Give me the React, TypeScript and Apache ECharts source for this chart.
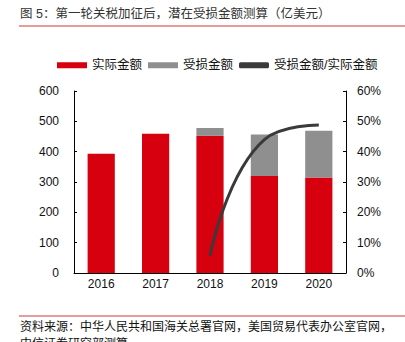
import React, { useEffect, useRef } from "react";
import * as echarts from "echarts";

const categories = ["2016", "2017", "2018", "2019", "2020"];
const actualValues = [393, 459, 452, 320, 315];
const lossValues = [0, 0, 26, 137, 154];
const ratioValues: (number | null)[] = [null, null, 5.7, 44, 48.8];
const leftTicks = { min: 0, max: 600, interval: 100 };
const rightTicks = { min: 0, max: 60, interval: 10 };
const titleText = "图 5：第一轮关税加征后，潜在受损金额测算（亿美元）";
const sourceLine1 = "资料来源：中华人民共和国海关总署官网，美国贸易代表办公室官网，";
const sourceLine2 = "中信证券研究部测算";

const FONT = "'Liberation Sans', 'Noto Sans CJK SC', sans-serif";

export default function App() {
  const ref = useRef<HTMLDivElement>(null);
  useEffect(() => {
    document.body.style.margin = "0";
    const chart = echarts.init(ref.current!, null, { renderer: "svg" });
    chart.setOption({
      animation: false,
      backgroundColor: "#fff",
      textStyle: { fontFamily: FONT },
      graphic: [
        {
          type: "text",
          left: 20,
          top: 8,
          style: { text: titleText, fontSize: 12.5, fill: "#333", fontFamily: FONT },
        },
        {
          type: "line",
          shape: { x1: 19, y1: 26, x2: 405, y2: 26 },
          style: { stroke: "#e07a7a", lineWidth: 1.5 },
        },
        {
          type: "line",
          shape: { x1: 19, y1: 316, x2: 405, y2: 316 },
          style: { stroke: "#e07a7a", lineWidth: 1.5 },
        },
        {
          type: "text",
          left: 20,
          top: 321,
          style: { text: sourceLine1, fontSize: 12, fill: "#111", fontFamily: FONT },
        },
        {
          type: "text",
          left: 20,
          top: 338,
          style: { text: sourceLine2, fontSize: 12, fill: "#111", fontFamily: FONT },
        },
      ],
      legend: {
        left: 52,
        top: 54,
        itemWidth: 30,
        itemHeight: 6,
        itemGap: 6,
        textStyle: { fontSize: 12.5, color: "#111", fontFamily: FONT },
        data: [
          { name: "实际金额", icon: "rect" },
          { name: "受损金额", icon: "rect" },
          { name: "受损金额/实际金额", icon: "roundRect", itemStyle: { color: "#3a3a3a" } },
        ],
      },
      grid: { left: 74, right: 59, top: 91, bottom: 69 },
      xAxis: {
        type: "category",
        data: categories,
        axisLine: { lineStyle: { color: "#000", width: 1 } },
        axisTick: { show: false },
        axisLabel: { color: "#111", fontSize: 12, margin: 5, fontFamily: FONT },
      },
      yAxis: [
        {
          type: "value",
          ...leftTicks,
          axisLine: { show: true, lineStyle: { color: "#000", width: 1 } },
          axisTick: { show: true, inside: true, length: 3, lineStyle: { color: "#000" } },
          axisLabel: { color: "#111", fontSize: 12, margin: 15, fontFamily: FONT },
          splitLine: { show: false },
        },
        {
          type: "value",
          ...rightTicks,
          position: "right",
          axisLine: { show: true, lineStyle: { color: "#000", width: 1 } },
          axisTick: { show: true, inside: true, length: 3, lineStyle: { color: "#000" } },
          axisLabel: { color: "#111", fontSize: 12, margin: 11, formatter: "{value}%", fontFamily: FONT },
          splitLine: { show: false },
        },
      ],
      series: [
        {
          name: "实际金额",
          type: "bar",
          stack: "total",
          barWidth: "50%",
          data: actualValues,
          itemStyle: { color: "#d7000f" },
        },
        {
          name: "受损金额",
          type: "bar",
          stack: "total",
          data: lossValues,
          itemStyle: { color: "#8f8f8f" },
        },
        {
          name: "受损金额/实际金额",
          type: "line",
          yAxisIndex: 1,
          data: ratioValues,
          smooth: 0.5,
          showSymbol: false,
          symbol: "none",
          lineStyle: { color: "#3a3a3a", width: 3 },
          itemStyle: { color: "#3a3a3a" },
        },
      ],
    });
    return () => chart.dispose();
  }, []);
  return (
    <div
      ref={ref}
      style={{ position: "absolute", left: 0, top: 0, width: 405, height: 342 }}
    />
  );
}
